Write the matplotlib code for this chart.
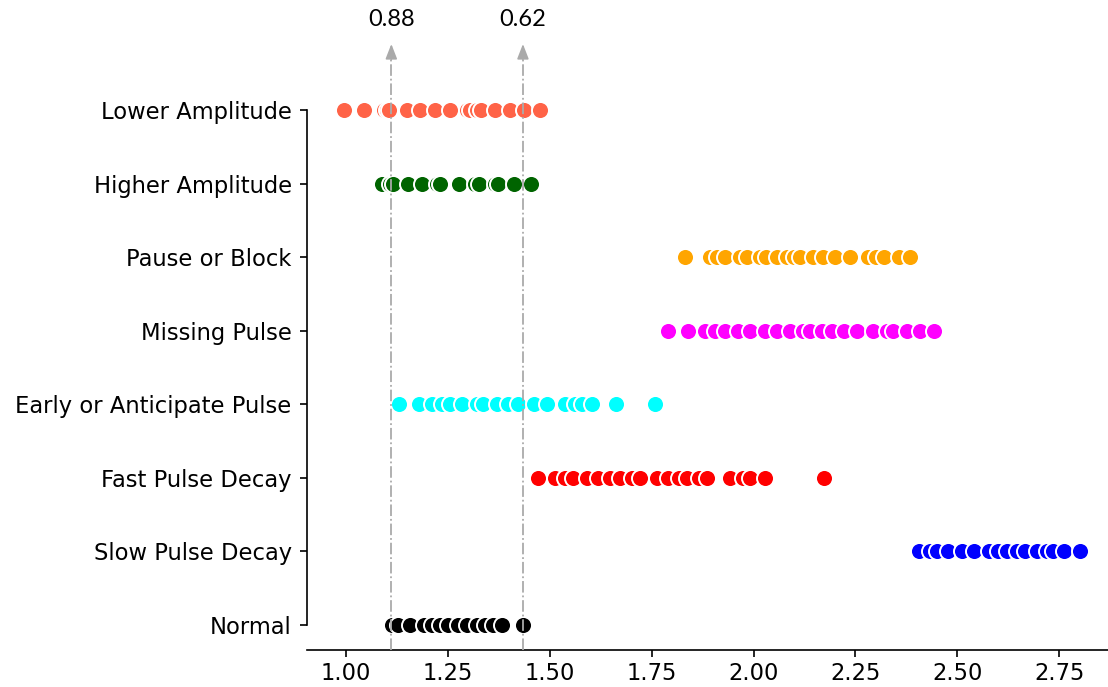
import matplotlib
matplotlib.use("Agg")
import matplotlib.pyplot as plt
from matplotlib.transforms import blended_transform_factory

categories = ["Lower Amplitude", "Higher Amplitude", "Pause or Block", "Missing Pulse",
              "Early or Anticipate Pulse", "Fast Pulse Decay", "Slow Pulse Decay", "Normal"]
colors = ["#FF6347", "#006400", "#FFA500", "#FF00FF", "#00FFFF", "#FF0000", "#0000FF", "#000000"]

lower_amplitude = [0.995, 1.045, 1.092, 1.100, 1.106, 1.149, 1.182, 1.218, 1.255, 1.296, 1.305,
                   1.321, 1.330, 1.366, 1.403, 1.436, 1.476]
higher_amplitude = [1.088, 1.108, 1.115, 1.153, 1.186, 1.223, 1.230, 1.276, 1.317, 1.325,
                    1.366, 1.372, 1.411, 1.453]
pause_or_block = [1.832, 1.893, 1.910, 1.930, 1.967, 1.984, 2.016, 2.030, 2.057, 2.082, 2.100,
                  2.114, 2.147, 2.170, 2.200, 2.237, 2.282, 2.300, 2.319, 2.356, 2.384]
missing_pulse = [1.791, 1.840, 1.881, 1.906, 1.930, 1.963, 1.992, 2.028, 2.057, 2.090, 2.122,
                 2.139, 2.168, 2.192, 2.221, 2.254, 2.294, 2.327, 2.343, 2.376, 2.409, 2.442]
early_pulse = [1.131, 1.178, 1.210, 1.235, 1.255, 1.284, 1.321, 1.337, 1.370, 1.398, 1.423,
               1.460, 1.493, 1.538, 1.562, 1.579, 1.603, 1.663, 1.758]
fast_decay = [1.472, 1.513, 1.538, 1.558, 1.591, 1.619, 1.648, 1.673, 1.701, 1.722, 1.763,
              1.791, 1.816, 1.836, 1.865, 1.885, 1.943, 1.975, 1.992, 2.028, 2.172]
slow_decay = [2.407, 2.433, 2.450, 2.478, 2.511, 2.540, 2.577, 2.601, 2.622, 2.646, 2.667,
              2.695, 2.720, 2.736, 2.761, 2.802]
normal = [1.112, 1.128, 1.157, 1.190, 1.210, 1.230, 1.251, 1.275, 1.296, 1.321, 1.341,
          1.361, 1.382, 1.435]

series = [lower_amplitude, higher_amplitude, pause_or_block, missing_pulse,
          early_pulse, fast_decay, slow_decay, normal]

ref_lines = [1.111, 1.434]
ref_labels = ["0.88", "0.62"]
xticks = [1.00, 1.25, 1.50, 1.75, 2.00, 2.25, 2.50, 2.75]

fig = plt.figure(figsize=(11.08, 6.87), dpi=100)
ax = fig.add_axes([307 / 1108, 1 - 650 / 687, 1 - 307 / 1108, (650 - 58) / 687])

for i, (vals, c) in enumerate(zip(series, colors)):
    ax.scatter(vals, [i] * len(vals), s=150, color=c, edgecolor="white", linewidth=1.4, zorder=3)

ax.set_xlim(0.904, 2.870)
ax.set_ylim(7.34, -0.707)
ax.set_yticks(range(len(categories)))
ax.set_yticklabels(categories)
ax.set_xticks(xticks)
ax.set_xticklabels([f"{t:.2f}" for t in xticks])

for s in ["top", "right"]:
    ax.spines[s].set_visible(False)
ax.spines["left"].set_bounds(0, len(categories) - 1)
ax.spines["left"].set_linewidth(1.2)
ax.spines["bottom"].set_linewidth(1.2)
ax.tick_params(axis="both", labelsize=16.3, length=5, width=1.2, colors="black")
ax.tick_params(axis="y", pad=6)

trans = blended_transform_factory(ax.transData, ax.transAxes)
ftrans = blended_transform_factory(ax.transData, fig.transFigure)
for x, lab in zip(ref_lines, ref_labels):
    ax.axvline(x, ymin=0, ymax=1, color="#aaaaaa", linestyle="-.", linewidth=1.3, zorder=4)
    ax.annotate("", xy=(x, 1.0 + 14 / 592), xycoords=trans, xytext=(x, 0.998), textcoords=trans,
                arrowprops=dict(arrowstyle="-|>,head_length=0.9,head_width=0.35", color="#aaaaaa",
                                lw=1.2, shrinkA=0, shrinkB=0, mutation_scale=10),
                annotation_clip=False)
    ax.text(x, 1 - 19 / 687, lab, transform=ftrans, ha="center", va="center",
            fontsize=17, family=["Lato", "DejaVu Sans"])

fig.savefig("out.png", dpi=100)
